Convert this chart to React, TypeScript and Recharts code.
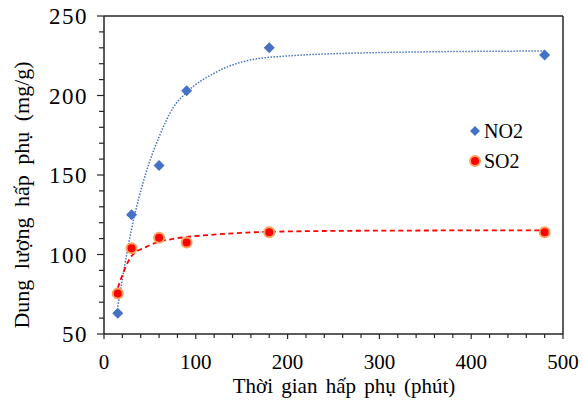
import React from 'react';
import {
  ComposedChart,
  Scatter,
  Line,
  XAxis,
  YAxis,
  ReferenceLine,
  Legend,
  Label,
} from 'recharts';

// measured points (time in minutes)
const timeMin = [15, 30, 60, 90, 180, 480];
const no2Values = [63, 125, 156, 203, 230, 225.5];
const so2Values = [75.5, 104, 110.5, 107.5, 114, 114];

// fitted curves
const fitTime = [15, 30, 45, 60, 75, 90, 120, 180, 300, 480];
const no2Fit = [67, 116, 150, 174, 192, 202, 214, 224, 227, 228];
const so2Fit = [79, 99, 104.5, 108, 109.8, 111, 112.5, 114.3, 115, 115.2];

const xMajorTicks = [0, 100, 200, 300, 400, 500];
const yMajorTicks = [50, 100, 150, 200, 250];
const xMinorStep = 20;
const yMinorStep = 10;

const seriesNames = ['NO2', 'SO2'];
const xTitle = 'Thời gian hấp phụ (phút)';
const yTitle = 'Dung lượng hấp phụ (mg/g)';

const FONT = '"Liberation Serif", "Times New Roman", serif';
const AXIS = '#262626';
const BLUE = '#4472C4';
const RED = '#FF0000';
const HALO = '#F6A45E';

const range = (from: number, to: number, step: number) => {
  const out: number[] = [];
  for (let v = from; v <= to + 1e-9; v += step) out.push(v);
  return out;
};

const xTicks = range(0, 500, xMinorStep);
const yTicks = range(50, 250, yMinorStep);

const no2Points = timeMin.map((t, i) => ({ x: t, y: no2Values[i] }));
const so2Points = timeMin.map((t, i) => ({ x: t, y: so2Values[i] }));
const no2FitData = fitTime.map((t, i) => ({ x: t, y: no2Fit[i] }));
const so2FitData = fitTime.map((t, i) => ({ x: t, y: so2Fit[i] }));

const txt = { fontFamily: FONT, fill: '#000' };

const Diamond = ({ cx, cy, r = 5.5 }: any) => (
  <polygon
    points={`${cx},${cy - r} ${cx + r},${cy} ${cx},${cy + r} ${cx - r},${cy}`}
    fill={BLUE}
  />
);

const Dot = ({ cx, cy }: any) => (
  <circle cx={cx} cy={cy} r={5} fill={RED} stroke={HALO} strokeWidth={2} />
);

const XTick = ({ x, y, payload }: any) => {
  const major = xMajorTicks.includes(payload.value);
  return (
    <g>
      <line x1={x} x2={x} y1={y} y2={y + (major ? 5 : 4)} stroke={AXIS} strokeWidth={1.2} />
      {major && (
        <text x={x} y={y + 35} textAnchor="middle" fontSize={21} style={txt}>
          {payload.value}
        </text>
      )}
    </g>
  );
};

const YTick = ({ x, y, payload }: any) => {
  const major = yMajorTicks.includes(payload.value);
  return (
    <g>
      <line x1={x - (major ? 7 : 5)} x2={x} y1={y} y2={y} stroke={AXIS} strokeWidth={1.2} />
      {major && (
        <text x={x - 16} y={y + 8} textAnchor="end" fontSize={23} letterSpacing={1.5} style={txt}>
          {payload.value}
        </text>
      )}
    </g>
  );
};

const LegendBox = () => (
  <svg width={90} height={60}>
    <Diamond cx={8} cy={14} r={5} />
    <text x={17} y={21} fontSize={20} style={txt}>
      {seriesNames[0]}
    </text>
    <Dot cx={8} cy={44} />
    <text x={17} y={51} fontSize={20} style={txt}>
      {seriesNames[1]}
    </text>
  </svg>
);

const App: React.FC = () => {
  return (
    <div style={{ position: 'absolute', left: 0, top: 0, background: '#fff' }}>
      <ComposedChart
        width={583}
        height={400}
        margin={{ top: 16, right: 20, bottom: 0, left: 0 }}
      >
        <XAxis
          dataKey="x"
          type="number"
          domain={[0, 500]}
          ticks={xTicks}
          interval={0}
          height={66}
          tickSize={0}
          tickMargin={0}
          tickLine={false}
          tick={<XTick />}
          axisLine={{ stroke: AXIS, strokeWidth: 1.5 }}
        >
          <Label
            content={() => (
              <text x={344} y={393} textAnchor="middle" fontSize={21} wordSpacing={3} style={txt}>
                {xTitle}
              </text>
            )}
          />
        </XAxis>
        <YAxis
          dataKey="y"
          type="number"
          domain={[50, 250]}
          ticks={yTicks}
          interval={0}
          width={104}
          tickSize={0}
          tickMargin={0}
          tickLine={false}
          tick={<YTick />}
          axisLine={{ stroke: AXIS, strokeWidth: 1.5 }}
        >
          <Label
            content={() => (
              <text
                x={0}
                y={0}
                transform="translate(29,195) rotate(-90)"
                textAnchor="middle"
                fontSize={22}
                wordSpacing={5}
                style={txt}
              >
                {yTitle}
              </text>
            )}
          />
        </YAxis>
        <ReferenceLine y={250} stroke={AXIS} strokeWidth={1.5} />
        <ReferenceLine x={500} stroke={AXIS} strokeWidth={1.5} />
        <Line
          data={no2FitData}
          dataKey="y"
          type="monotone"
          stroke={BLUE}
          strokeWidth={1.5}
          strokeDasharray="1.5 1.5"
          dot={false}
          activeDot={false}
          legendType="none"
          isAnimationActive={false}
        />
        <Line
          data={so2FitData}
          dataKey="y"
          type="monotone"
          stroke={RED}
          strokeWidth={1.8}
          strokeDasharray="5 3.5"
          dot={false}
          activeDot={false}
          legendType="none"
          isAnimationActive={false}
        />
        <Scatter
          name={seriesNames[0]}
          data={no2Points}
          dataKey="y"
          shape={(p: any) => <Diamond cx={p.cx} cy={p.cy} />}
          isAnimationActive={false}
        />
        <Scatter
          name={seriesNames[1]}
          data={so2Points}
          dataKey="y"
          shape={(p: any) => <Dot cx={p.cx} cy={p.cy} />}
          isAnimationActive={false}
        />
        <Legend
          layout="vertical"
          align="center"
          verticalAlign="middle"
          content={() => <LegendBox />}
          wrapperStyle={{ position: 'absolute', left: 467, top: 117, width: 90, height: 60 }}
        />
      </ComposedChart>
    </div>
  );
};

export default App;
